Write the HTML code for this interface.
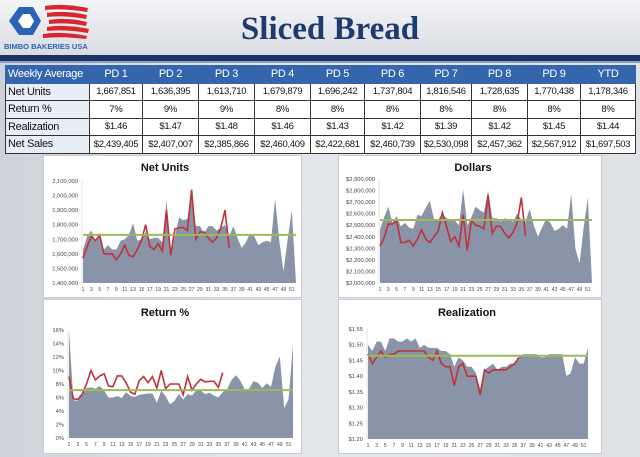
<!DOCTYPE html>
<html><head><meta charset="utf-8"><style>
body{margin:0;width:640px;height:457px;overflow:hidden;background:linear-gradient(90deg,#cfd3d9,#e4e7eb 40%,#dfe2e6);font-family:"Liberation Sans",sans-serif;position:relative}
#hdr{position:absolute;left:0;top:0;width:640px;height:55px;background:linear-gradient(180deg,#f4f5f7,#d9dce1)}
#bar{position:absolute;left:0;top:55px;width:640px;height:6px;background:#1c3263;border-bottom:2px solid #8aa0c4}
#title{position:absolute;left:0;width:640px;top:11px;text-align:center;font:bold 33px "Liberation Serif",serif;color:#1f3a70;padding-left:20px;box-sizing:border-box}
table{position:absolute;left:5px;top:65px;border-collapse:collapse;width:630px;table-layout:fixed}
td{border:1px solid #333;height:16.5px;padding:0;font-size:9.5px;text-align:center;background:#fff;color:#111;letter-spacing:-0.3px}
tr.h td{background:#3566ad;color:#fff;font-size:11px;border-color:#3566ad}
td.f{text-align:left;padding-left:2px;font-size:11px;background:#e8eef6}
tr.h td.f{background:#3566ad}
.panel{position:absolute;background:#fff;border:1px solid #c8ccd2}
</style></head><body>
<div id="hdr"></div>
<svg style="position:absolute;left:3px;top:3px" width="90" height="50">
<polygon points="6,18 16,4 30,4 38,18 30,32 16,32" fill="#2a63b5"/>
<polygon points="15,18 20,11 27,11 31,18 27,25 20,25" fill="#fff"/>
<g fill="#d7262e"><path d="M42,3 Q60,0 85,5 L84,9 Q60,5 42,7Z"/><path d="M44,10 Q62,7 84,12 L83,16 Q62,12 44,14Z"/><path d="M46,17 Q64,14 84,19 L83,23 Q64,19 46,21Z"/><path d="M44,24 Q62,21 86,26 L85,30 Q62,26 44,28Z"/><path d="M40,31 Q60,28 84,33 L83,36 Q60,33 40,35Z"/></g>
<text x="1" y="46" font-size="7.5" font-weight="bold" fill="#2a63b5" font-family="Liberation Sans">BIMBO BAKERIES USA</text>
</svg>
<div id="title">Sliced Bread</div>
<div id="bar"></div>
<table>
<colgroup><col style="width:84px"><col style="width:53px"><col style="width:56px"><col style="width:56px"><col style="width:56px"><col style="width:54px"><col style="width:56px"><col style="width:51px"><col style="width:56px"><col style="width:53px"><col style="width:55px"></colgroup>
<tr class="h"><td class="f">Weekly Average</td><td>PD 1</td><td>PD 2</td><td>PD 3</td><td>PD 4</td><td>PD 5</td><td>PD 6</td><td>PD 7</td><td>PD 8</td><td>PD 9</td><td>YTD</td></tr>
<tr><td class="f">Net Units</td><td>1,667,851</td><td>1,636,395</td><td>1,613,710</td><td>1,679,879</td><td>1,696,242</td><td>1,737,804</td><td>1,816,546</td><td>1,728,635</td><td>1,770,438</td><td>1,178,346</td></tr>
<tr><td class="f">Return %</td><td>7%</td><td>9%</td><td>9%</td><td>8%</td><td>8%</td><td>8%</td><td>8%</td><td>8%</td><td>8%</td><td>8%</td></tr>
<tr><td class="f">Realization</td><td>$1.46</td><td>$1.47</td><td>$1.48</td><td>$1.46</td><td>$1.43</td><td>$1.42</td><td>$1.39</td><td>$1.42</td><td>$1.45</td><td>$1.44</td></tr>
<tr><td class="f">Net Sales</td><td>$2,439,405</td><td>$2,407,007</td><td>$2,385,866</td><td>$2,460,409</td><td>$2,422,681</td><td>$2,460,739</td><td>$2,530,098</td><td>$2,457,362</td><td>$2,567,912</td><td>$1,697,503</td></tr>
</table>
<div class="panel" style="left:43px;top:155px;width:257px;height:141px"></div>
<div class="panel" style="left:338px;top:155px;width:262px;height:141px"></div>
<div class="panel" style="left:43px;top:299px;width:257px;height:153px"></div>
<div class="panel" style="left:338px;top:299px;width:262px;height:153px"></div>
<svg id="charts" width="640" height="457" style="position:absolute;left:0;top:0"></svg>
<script>
const unitsArea=[1.63,1.72,1.76,1.68,1.72,1.63,1.66,1.63,1.63,1.69,1.70,1.73,1.81,1.69,1.70,1.75,1.70,1.71,1.71,1.68,1.97,1.60,1.72,1.85,1.83,1.84,2.03,1.79,1.79,1.74,1.79,1.79,1.76,1.78,1.80,1.72,1.79,1.71,1.64,1.68,1.74,1.72,1.66,1.68,1.69,1.68,1.98,1.69,1.48,1.70,1.90,1.40];
const unitsLine=[1.57,1.65,1.72,1.69,1.73,1.60,1.60,1.60,1.56,1.60,1.66,1.59,1.58,1.63,1.69,1.80,1.65,1.63,1.67,1.62,1.90,1.59,1.77,1.78,1.78,1.76,2.04,1.70,1.75,1.75,1.71,1.68,1.71,1.78,1.90,1.64];
const unitsAvg=1.73;
const unitsTicks=["1,400,000","1,500,000","1,600,000","1,700,000","1,800,000","1,900,000","2,000,000","2,100,000"];
const dollarsArea=[2.46,2.57,2.66,2.52,2.58,2.49,2.52,2.48,2.47,2.59,2.58,2.65,2.71,2.55,2.55,2.60,2.56,2.55,2.54,2.50,2.81,2.50,2.57,2.66,2.63,2.61,2.80,2.56,2.56,2.53,2.56,2.55,2.53,2.60,2.55,2.53,2.64,2.50,2.40,2.48,2.56,2.52,2.45,2.47,2.50,2.47,2.77,2.30,2.17,2.48,2.74,2.00];
const dollarsLine=[2.32,2.39,2.51,2.51,2.54,2.35,2.35,2.37,2.32,2.38,2.46,2.38,2.35,2.40,2.45,2.61,2.49,2.36,2.40,2.32,2.59,2.28,2.54,2.50,2.49,2.47,2.76,2.43,2.49,2.49,2.43,2.39,2.44,2.52,2.74,2.41];
const dollarsAvg=2.545;
const dollarsTicks=["$2,000,000","$2,100,000","$2,200,000","$2,300,000","$2,400,000","$2,500,000","$2,600,000","$2,700,000","$2,800,000","$2,900,000"];
const returnArea=[16,5.6,5.5,6.5,7.4,7.5,7.3,7.7,7.0,6.0,6.0,6.2,5.9,6.8,6.2,6.1,6.4,6.5,6.6,6.6,5.2,7.0,6.2,5.0,5.5,6.5,5.7,6.5,6.3,7.1,7.0,6.5,6.7,6.3,6.0,6.8,7.2,8.6,9.3,8.5,7.2,7.3,8.4,8.2,7.4,8.1,7.6,10.6,12.1,4.4,5.8,13.8];
const returnLine=[9.1,5.8,5.7,6.5,8.0,10.0,8.6,9.2,9.5,7.7,7.6,9.2,9.2,8.2,6.8,6.5,8.5,9.1,8.2,9.1,7.4,10.0,7.3,8.0,8.0,8.0,6.4,9.1,7.1,8.0,8.7,8.3,8.4,8.4,7.5,9.7];
const returnAvg=7.1;
const returnTicks=["0%","2%","4%","6%","8%","10%","12%","14%","16%"];
const realArea=[1.50,1.48,1.51,1.51,1.48,1.52,1.52,1.51,1.51,1.52,1.51,1.52,1.49,1.50,1.49,1.49,1.49,1.48,1.48,1.47,1.43,1.46,1.45,1.43,1.43,1.41,1.36,1.42,1.43,1.44,1.42,1.43,1.43,1.44,1.44,1.46,1.47,1.47,1.47,1.47,1.46,1.46,1.47,1.47,1.47,1.47,1.40,1.41,1.46,1.44,1.44,1.49];
const realLine=[1.47,1.44,1.46,1.48,1.46,1.47,1.47,1.48,1.48,1.48,1.48,1.48,1.48,1.48,1.46,1.45,1.48,1.44,1.43,1.43,1.37,1.43,1.44,1.40,1.40,1.40,1.34,1.42,1.41,1.42,1.42,1.42,1.42,1.43,1.44,1.46];
const realAvg=1.465;
const realTicks=["$1.20","$1.25","$1.30","$1.35","$1.40","$1.45","$1.50","$1.55"];

const svg=document.getElementById('charts');const NS='http://www.w3.org/2000/svg';
function mk(t,a){const e=document.createElementNS(NS,t);for(const k in a)e.setAttribute(k,a[k]);svg.appendChild(e);return e;}
function chart(key,title,tx,ty,x0,x1,yT,yB,min,max,area,line,avg,ticks){
  const n=area.length;
  const X=i=>x0+(x1-x0)*i/(n-1);
  const Y=v=>yB-(yB-yT)*(v-min)/(max-min);
  const t=mk('text',{x:tx,y:ty,'text-anchor':'middle','font-size':11,'font-weight':'bold','font-family':'Liberation Sans',fill:'#111'});t.textContent=title;
  
  
  ticks.forEach((lab,i)=>{const v=min+(max-min)*i/(ticks.length-1);
    const e=mk('text',{x:x0-5,y:Y(v)+2,'text-anchor':'end','font-size':5.8,'font-family':'Liberation Sans',fill:'#444'});e.textContent=lab;
    
    });
  let d='M'+X(0)+','+yB;area.forEach((v,i)=>d+=' L'+X(i)+','+Y(v));d+=' L'+X(n-1)+','+yB+'Z';
  const a=mk('path',{d:d,fill:'#8994a8'});
  
  
  mk('line',{x1:x0-1,y1:yT,x2:x0-1,y2:yB,stroke:'#ccc','stroke-width':0.6});
  const ld=line.map((v,i)=>(i?'L':'M')+X(i)+','+Y(v)).join(' ');
  const l=mk('path',{d:ld,fill:'none',stroke:'#c0313a','stroke-width':1.6});
  
  
  const g=mk('line',{x1:X(0),x2:X(n-1),y1:Y(avg),y2:Y(avg),stroke:'#9bbb59','stroke-width':2});
  
  
  for(let i=0;i<n;i+=2){const e=mk('text',{x:X(i),y:yB+8,'text-anchor':'middle','font-size':5,'font-family':'Liberation Sans',fill:'#444'});e.textContent=i+1;
    
    }
}
chart('net-units','Net Units',165,171,83,296,181,283,1.4,2.1,unitsArea,unitsLine,unitsAvg,unitsTicks);
chart('dollars','Dollars',473,171,380,592,179,283,2.0,2.9,dollarsArea,dollarsLine,dollarsAvg,dollarsTicks);
chart('return-pct','Return %',165,316,69,293,330,438,0,16,returnArea,returnLine,returnAvg,returnTicks);
chart('realization','Realization',467,316,368,588,329,439,1.20,1.55,realArea,realLine,realAvg,realTicks);
</script>
</body></html>
